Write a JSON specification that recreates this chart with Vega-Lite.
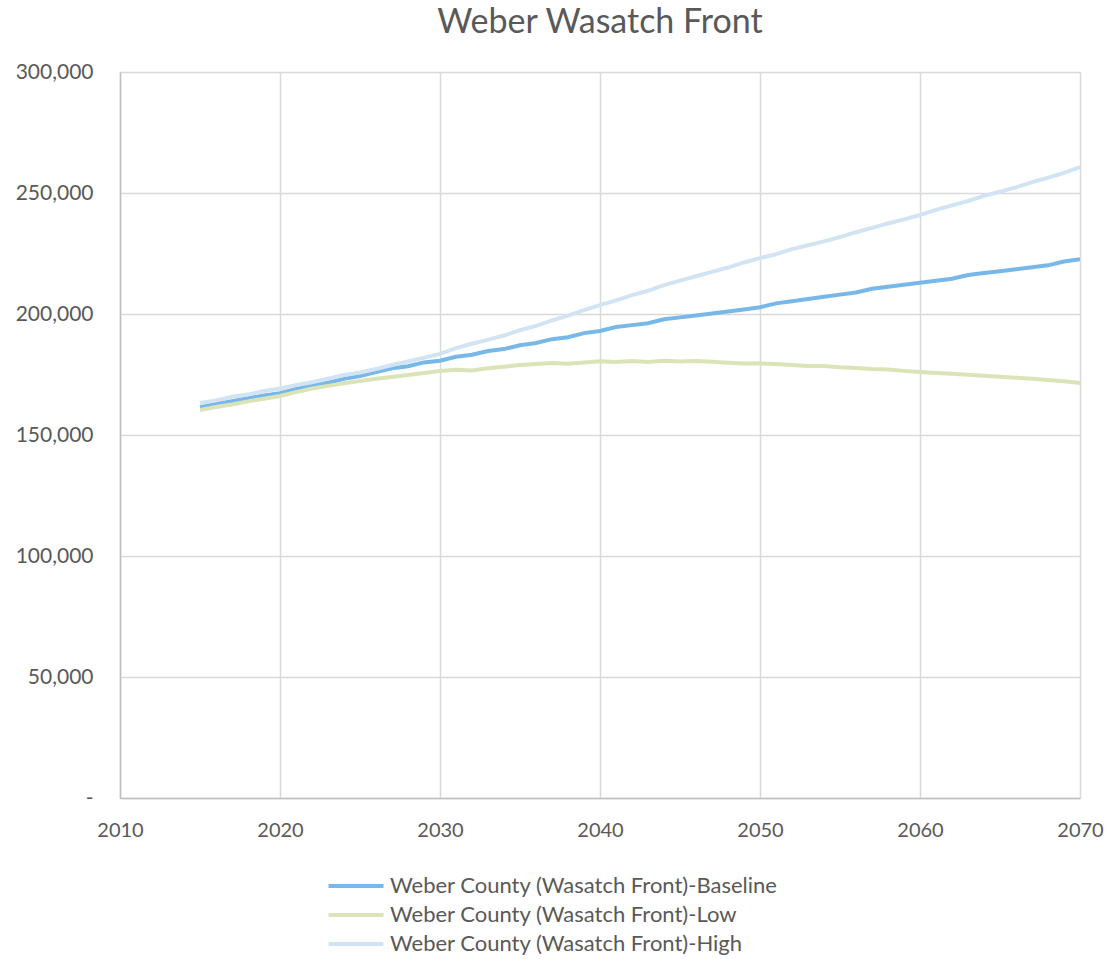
{
  "$schema": "https://vega.github.io/schema/vega-lite/v6.json",
  "width": 960,
  "height": 726,
  "autosize": "none",
  "padding": {"left": 120, "top": 72, "right": 35, "bottom": 161},
  "background": "white",
  "title": {
    "text": "Weber Wasatch Front",
    "fontSize": 34,
    "font": "Lato",
    "fontWeight": "normal",
    "color": "#595959",
    "anchor": "middle",
    "offset": 21
  },
  "config": {
    "view": {"stroke": null},
    "font": "Lato"
  },
  "data": {
    "values": [
      {"series": "Weber County (Wasatch Front)-Baseline", "year": 2015, "pop": 161500},
      {"series": "Weber County (Wasatch Front)-Baseline", "year": 2016, "pop": 162800},
      {"series": "Weber County (Wasatch Front)-Baseline", "year": 2017, "pop": 164000},
      {"series": "Weber County (Wasatch Front)-Baseline", "year": 2018, "pop": 165200},
      {"series": "Weber County (Wasatch Front)-Baseline", "year": 2019, "pop": 166300},
      {"series": "Weber County (Wasatch Front)-Baseline", "year": 2020, "pop": 167300},
      {"series": "Weber County (Wasatch Front)-Baseline", "year": 2021, "pop": 169000},
      {"series": "Weber County (Wasatch Front)-Baseline", "year": 2022, "pop": 170400},
      {"series": "Weber County (Wasatch Front)-Baseline", "year": 2023, "pop": 171600},
      {"series": "Weber County (Wasatch Front)-Baseline", "year": 2024, "pop": 173200},
      {"series": "Weber County (Wasatch Front)-Baseline", "year": 2025, "pop": 174400},
      {"series": "Weber County (Wasatch Front)-Baseline", "year": 2026, "pop": 176000},
      {"series": "Weber County (Wasatch Front)-Baseline", "year": 2027, "pop": 177600},
      {"series": "Weber County (Wasatch Front)-Baseline", "year": 2028, "pop": 178400},
      {"series": "Weber County (Wasatch Front)-Baseline", "year": 2029, "pop": 180000},
      {"series": "Weber County (Wasatch Front)-Baseline", "year": 2030, "pop": 180700},
      {"series": "Weber County (Wasatch Front)-Baseline", "year": 2031, "pop": 182300},
      {"series": "Weber County (Wasatch Front)-Baseline", "year": 2032, "pop": 183200},
      {"series": "Weber County (Wasatch Front)-Baseline", "year": 2033, "pop": 184700},
      {"series": "Weber County (Wasatch Front)-Baseline", "year": 2034, "pop": 185500},
      {"series": "Weber County (Wasatch Front)-Baseline", "year": 2035, "pop": 187100},
      {"series": "Weber County (Wasatch Front)-Baseline", "year": 2036, "pop": 188000},
      {"series": "Weber County (Wasatch Front)-Baseline", "year": 2037, "pop": 189600},
      {"series": "Weber County (Wasatch Front)-Baseline", "year": 2038, "pop": 190400},
      {"series": "Weber County (Wasatch Front)-Baseline", "year": 2039, "pop": 192100},
      {"series": "Weber County (Wasatch Front)-Baseline", "year": 2040, "pop": 193000},
      {"series": "Weber County (Wasatch Front)-Baseline", "year": 2041, "pop": 194600},
      {"series": "Weber County (Wasatch Front)-Baseline", "year": 2042, "pop": 195400},
      {"series": "Weber County (Wasatch Front)-Baseline", "year": 2043, "pop": 196200},
      {"series": "Weber County (Wasatch Front)-Baseline", "year": 2044, "pop": 197800},
      {"series": "Weber County (Wasatch Front)-Baseline", "year": 2045, "pop": 198600},
      {"series": "Weber County (Wasatch Front)-Baseline", "year": 2046, "pop": 199400},
      {"series": "Weber County (Wasatch Front)-Baseline", "year": 2047, "pop": 200200},
      {"series": "Weber County (Wasatch Front)-Baseline", "year": 2048, "pop": 201000},
      {"series": "Weber County (Wasatch Front)-Baseline", "year": 2049, "pop": 201900},
      {"series": "Weber County (Wasatch Front)-Baseline", "year": 2050, "pop": 202800},
      {"series": "Weber County (Wasatch Front)-Baseline", "year": 2051, "pop": 204400},
      {"series": "Weber County (Wasatch Front)-Baseline", "year": 2052, "pop": 205300},
      {"series": "Weber County (Wasatch Front)-Baseline", "year": 2053, "pop": 206200},
      {"series": "Weber County (Wasatch Front)-Baseline", "year": 2054, "pop": 207100},
      {"series": "Weber County (Wasatch Front)-Baseline", "year": 2055, "pop": 208000},
      {"series": "Weber County (Wasatch Front)-Baseline", "year": 2056, "pop": 208900},
      {"series": "Weber County (Wasatch Front)-Baseline", "year": 2057, "pop": 210400},
      {"series": "Weber County (Wasatch Front)-Baseline", "year": 2058, "pop": 211300},
      {"series": "Weber County (Wasatch Front)-Baseline", "year": 2059, "pop": 212100},
      {"series": "Weber County (Wasatch Front)-Baseline", "year": 2060, "pop": 212900},
      {"series": "Weber County (Wasatch Front)-Baseline", "year": 2061, "pop": 213700},
      {"series": "Weber County (Wasatch Front)-Baseline", "year": 2062, "pop": 214600},
      {"series": "Weber County (Wasatch Front)-Baseline", "year": 2063, "pop": 216100},
      {"series": "Weber County (Wasatch Front)-Baseline", "year": 2064, "pop": 216900},
      {"series": "Weber County (Wasatch Front)-Baseline", "year": 2065, "pop": 217700},
      {"series": "Weber County (Wasatch Front)-Baseline", "year": 2066, "pop": 218500},
      {"series": "Weber County (Wasatch Front)-Baseline", "year": 2067, "pop": 219300},
      {"series": "Weber County (Wasatch Front)-Baseline", "year": 2068, "pop": 220100},
      {"series": "Weber County (Wasatch Front)-Baseline", "year": 2069, "pop": 221700},
      {"series": "Weber County (Wasatch Front)-Baseline", "year": 2070, "pop": 222600},
      {"series": "Weber County (Wasatch Front)-Low", "year": 2015, "pop": 160300},
      {"series": "Weber County (Wasatch Front)-Low", "year": 2016, "pop": 161600},
      {"series": "Weber County (Wasatch Front)-Low", "year": 2017, "pop": 162600},
      {"series": "Weber County (Wasatch Front)-Low", "year": 2018, "pop": 163900},
      {"series": "Weber County (Wasatch Front)-Low", "year": 2019, "pop": 165000},
      {"series": "Weber County (Wasatch Front)-Low", "year": 2020, "pop": 166100},
      {"series": "Weber County (Wasatch Front)-Low", "year": 2021, "pop": 167700},
      {"series": "Weber County (Wasatch Front)-Low", "year": 2022, "pop": 169200},
      {"series": "Weber County (Wasatch Front)-Low", "year": 2023, "pop": 170300},
      {"series": "Weber County (Wasatch Front)-Low", "year": 2024, "pop": 171400},
      {"series": "Weber County (Wasatch Front)-Low", "year": 2025, "pop": 172300},
      {"series": "Weber County (Wasatch Front)-Low", "year": 2026, "pop": 173200},
      {"series": "Weber County (Wasatch Front)-Low", "year": 2027, "pop": 174000},
      {"series": "Weber County (Wasatch Front)-Low", "year": 2028, "pop": 174800},
      {"series": "Weber County (Wasatch Front)-Low", "year": 2029, "pop": 175600},
      {"series": "Weber County (Wasatch Front)-Low", "year": 2030, "pop": 176400},
      {"series": "Weber County (Wasatch Front)-Low", "year": 2031, "pop": 177000},
      {"series": "Weber County (Wasatch Front)-Low", "year": 2032, "pop": 176700},
      {"series": "Weber County (Wasatch Front)-Low", "year": 2033, "pop": 177600},
      {"series": "Weber County (Wasatch Front)-Low", "year": 2034, "pop": 178200},
      {"series": "Weber County (Wasatch Front)-Low", "year": 2035, "pop": 178900},
      {"series": "Weber County (Wasatch Front)-Low", "year": 2036, "pop": 179300},
      {"series": "Weber County (Wasatch Front)-Low", "year": 2037, "pop": 179700},
      {"series": "Weber County (Wasatch Front)-Low", "year": 2038, "pop": 179400},
      {"series": "Weber County (Wasatch Front)-Low", "year": 2039, "pop": 180000},
      {"series": "Weber County (Wasatch Front)-Low", "year": 2040, "pop": 180500},
      {"series": "Weber County (Wasatch Front)-Low", "year": 2041, "pop": 180200},
      {"series": "Weber County (Wasatch Front)-Low", "year": 2042, "pop": 180600},
      {"series": "Weber County (Wasatch Front)-Low", "year": 2043, "pop": 180200},
      {"series": "Weber County (Wasatch Front)-Low", "year": 2044, "pop": 180700},
      {"series": "Weber County (Wasatch Front)-Low", "year": 2045, "pop": 180400},
      {"series": "Weber County (Wasatch Front)-Low", "year": 2046, "pop": 180600},
      {"series": "Weber County (Wasatch Front)-Low", "year": 2047, "pop": 180300},
      {"series": "Weber County (Wasatch Front)-Low", "year": 2048, "pop": 179900},
      {"series": "Weber County (Wasatch Front)-Low", "year": 2049, "pop": 179500},
      {"series": "Weber County (Wasatch Front)-Low", "year": 2050, "pop": 179600},
      {"series": "Weber County (Wasatch Front)-Low", "year": 2051, "pop": 179300},
      {"series": "Weber County (Wasatch Front)-Low", "year": 2052, "pop": 178900},
      {"series": "Weber County (Wasatch Front)-Low", "year": 2053, "pop": 178500},
      {"series": "Weber County (Wasatch Front)-Low", "year": 2054, "pop": 178500},
      {"series": "Weber County (Wasatch Front)-Low", "year": 2055, "pop": 178000},
      {"series": "Weber County (Wasatch Front)-Low", "year": 2056, "pop": 177700},
      {"series": "Weber County (Wasatch Front)-Low", "year": 2057, "pop": 177300},
      {"series": "Weber County (Wasatch Front)-Low", "year": 2058, "pop": 177100},
      {"series": "Weber County (Wasatch Front)-Low", "year": 2059, "pop": 176500},
      {"series": "Weber County (Wasatch Front)-Low", "year": 2060, "pop": 176000},
      {"series": "Weber County (Wasatch Front)-Low", "year": 2061, "pop": 175600},
      {"series": "Weber County (Wasatch Front)-Low", "year": 2062, "pop": 175300},
      {"series": "Weber County (Wasatch Front)-Low", "year": 2063, "pop": 174900},
      {"series": "Weber County (Wasatch Front)-Low", "year": 2064, "pop": 174500},
      {"series": "Weber County (Wasatch Front)-Low", "year": 2065, "pop": 174100},
      {"series": "Weber County (Wasatch Front)-Low", "year": 2066, "pop": 173700},
      {"series": "Weber County (Wasatch Front)-Low", "year": 2067, "pop": 173200},
      {"series": "Weber County (Wasatch Front)-Low", "year": 2068, "pop": 172700},
      {"series": "Weber County (Wasatch Front)-Low", "year": 2069, "pop": 172200},
      {"series": "Weber County (Wasatch Front)-Low", "year": 2070, "pop": 171500},
      {"series": "Weber County (Wasatch Front)-High", "year": 2015, "pop": 163200},
      {"series": "Weber County (Wasatch Front)-High", "year": 2016, "pop": 164300},
      {"series": "Weber County (Wasatch Front)-High", "year": 2017, "pop": 165800},
      {"series": "Weber County (Wasatch Front)-High", "year": 2018, "pop": 166700},
      {"series": "Weber County (Wasatch Front)-High", "year": 2019, "pop": 168200},
      {"series": "Weber County (Wasatch Front)-High", "year": 2020, "pop": 169200},
      {"series": "Weber County (Wasatch Front)-High", "year": 2021, "pop": 170600},
      {"series": "Weber County (Wasatch Front)-High", "year": 2022, "pop": 171800},
      {"series": "Weber County (Wasatch Front)-High", "year": 2023, "pop": 173300},
      {"series": "Weber County (Wasatch Front)-High", "year": 2024, "pop": 174800},
      {"series": "Weber County (Wasatch Front)-High", "year": 2025, "pop": 175800},
      {"series": "Weber County (Wasatch Front)-High", "year": 2026, "pop": 177300},
      {"series": "Weber County (Wasatch Front)-High", "year": 2027, "pop": 178900},
      {"series": "Weber County (Wasatch Front)-High", "year": 2028, "pop": 180400},
      {"series": "Weber County (Wasatch Front)-High", "year": 2029, "pop": 181900},
      {"series": "Weber County (Wasatch Front)-High", "year": 2030, "pop": 183500},
      {"series": "Weber County (Wasatch Front)-High", "year": 2031, "pop": 185900},
      {"series": "Weber County (Wasatch Front)-High", "year": 2032, "pop": 187700},
      {"series": "Weber County (Wasatch Front)-High", "year": 2033, "pop": 189400},
      {"series": "Weber County (Wasatch Front)-High", "year": 2034, "pop": 191100},
      {"series": "Weber County (Wasatch Front)-High", "year": 2035, "pop": 193300},
      {"series": "Weber County (Wasatch Front)-High", "year": 2036, "pop": 195100},
      {"series": "Weber County (Wasatch Front)-High", "year": 2037, "pop": 197400},
      {"series": "Weber County (Wasatch Front)-High", "year": 2038, "pop": 199300},
      {"series": "Weber County (Wasatch Front)-High", "year": 2039, "pop": 201600},
      {"series": "Weber County (Wasatch Front)-High", "year": 2040, "pop": 203700},
      {"series": "Weber County (Wasatch Front)-High", "year": 2041, "pop": 205600},
      {"series": "Weber County (Wasatch Front)-High", "year": 2042, "pop": 207800},
      {"series": "Weber County (Wasatch Front)-High", "year": 2043, "pop": 209600},
      {"series": "Weber County (Wasatch Front)-High", "year": 2044, "pop": 211900},
      {"series": "Weber County (Wasatch Front)-High", "year": 2045, "pop": 213800},
      {"series": "Weber County (Wasatch Front)-High", "year": 2046, "pop": 215600},
      {"series": "Weber County (Wasatch Front)-High", "year": 2047, "pop": 217400},
      {"series": "Weber County (Wasatch Front)-High", "year": 2048, "pop": 219200},
      {"series": "Weber County (Wasatch Front)-High", "year": 2049, "pop": 221300},
      {"series": "Weber County (Wasatch Front)-High", "year": 2050, "pop": 223100},
      {"series": "Weber County (Wasatch Front)-High", "year": 2051, "pop": 224700},
      {"series": "Weber County (Wasatch Front)-High", "year": 2052, "pop": 226800},
      {"series": "Weber County (Wasatch Front)-High", "year": 2053, "pop": 228400},
      {"series": "Weber County (Wasatch Front)-High", "year": 2054, "pop": 230000},
      {"series": "Weber County (Wasatch Front)-High", "year": 2055, "pop": 231800},
      {"series": "Weber County (Wasatch Front)-High", "year": 2056, "pop": 233800},
      {"series": "Weber County (Wasatch Front)-High", "year": 2057, "pop": 235600},
      {"series": "Weber County (Wasatch Front)-High", "year": 2058, "pop": 237400},
      {"series": "Weber County (Wasatch Front)-High", "year": 2059, "pop": 239100},
      {"series": "Weber County (Wasatch Front)-High", "year": 2060, "pop": 240900},
      {"series": "Weber County (Wasatch Front)-High", "year": 2061, "pop": 243000},
      {"series": "Weber County (Wasatch Front)-High", "year": 2062, "pop": 244900},
      {"series": "Weber County (Wasatch Front)-High", "year": 2063, "pop": 246700},
      {"series": "Weber County (Wasatch Front)-High", "year": 2064, "pop": 248800},
      {"series": "Weber County (Wasatch Front)-High", "year": 2065, "pop": 250500},
      {"series": "Weber County (Wasatch Front)-High", "year": 2066, "pop": 252300},
      {"series": "Weber County (Wasatch Front)-High", "year": 2067, "pop": 254500},
      {"series": "Weber County (Wasatch Front)-High", "year": 2068, "pop": 256300},
      {"series": "Weber County (Wasatch Front)-High", "year": 2069, "pop": 258300},
      {"series": "Weber County (Wasatch Front)-High", "year": 2070, "pop": 260700}
    ]
  },
  "mark": {"type": "line", "strokeWidth": 4, "clip": true},
  "encoding": {
    "x": {
      "field": "year",
      "type": "quantitative",
      "scale": {"domain": [2010, 2070], "nice": false, "zero": false},
      "axis": {
        "title": null,
        "values": [2010, 2020, 2030, 2040, 2050, 2060, 2070],
        "format": "d",
        "grid": true,
        "gridColor": "#d9d9d9",
        "gridWidth": 1.5,
        "domainColor": "#bfbfbf",
        "domainWidth": 1.5,
        "ticks": false,
        "labelFlush": false,
        "labelFontSize": 20,
        "labelColor": "#595959",
        "labelPadding": 22,
        "labelFont": "Lato"
      }
    },
    "y": {
      "field": "pop",
      "type": "quantitative",
      "scale": {"domain": [0, 300000], "nice": false},
      "axis": {
        "title": null,
        "values": [0, 50000, 100000, 150000, 200000, 250000, 300000],
        "labelExpr": "datum.value == 0 ? '-' : format(datum.value, ',')",
        "grid": true,
        "gridColor": "#d9d9d9",
        "gridWidth": 1.5,
        "domainColor": "#bfbfbf",
        "domainWidth": 1.5,
        "ticks": false,
        "labelFontSize": 21,
        "labelColor": "#595959",
        "labelPadding": 27,
        "labelFont": "Lato"
      }
    },
    "color": {
      "field": "series",
      "type": "nominal",
      "sort": null,
      "scale": {
        "domain": ["Weber County (Wasatch Front)-Baseline", "Weber County (Wasatch Front)-Low", "Weber County (Wasatch Front)-High"],
        "range": ["#78b8e8", "#dae4b8", "#d2e4f4"]
      },
      "legend": {
        "title": null,
        "orient": "none",
        "legendX": 225,
        "legendY": 803,
        "padding": 0,
        "symbolType": "M-5,0H5",
        "symbolSize": 121,
        "symbolStrokeWidth": 4,
        "labelFontSize": 22,
        "labelColor": "#595959",
        "labelFont": "Lato",
        "labelLimit": 600,
        "rowPadding": 7,
        "labelOffset": 23
      }
    }
  }
}
